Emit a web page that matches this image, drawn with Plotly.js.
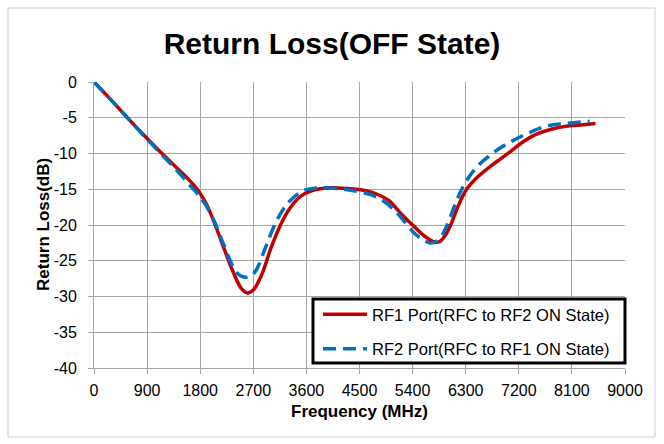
<!DOCTYPE html>
<html>
<head>
<meta charset="utf-8">
<script src="https://cdn.plot.ly/plotly-3.0.1.min.js"></script>
<style>html,body{margin:0;padding:0;background:#fff;}#chart{width:664px;height:444px;}</style>
</head>
<body>
<div id="chart"></div>
<script>
// Frequency points (MHz) and return loss (dB)
const freqRF1 = [0, 300, 600, 900, 1200, 1400, 1600, 1750, 1900, 2050, 2200, 2350, 2500, 2600, 2700, 2850, 3000, 3150, 3300, 3500, 3700, 4000, 4300, 4600, 4800, 5000, 5200, 5400, 5550, 5700, 5780, 5860, 5950, 6050, 6150, 6300, 6500, 6750, 7000, 7250, 7500, 7750, 8000, 8250, 8500];
const rf1 = [0, -2.6, -5.3, -7.9, -10.4, -12.0, -13.6, -15.0, -17.0, -19.9, -23.2, -26.4, -28.9, -29.5, -29.1, -26.8, -23.2, -20.2, -17.9, -16.0, -15.2, -14.8, -14.9, -15.2, -15.7, -16.6, -18.4, -20.0, -21.2, -22.1, -22.4, -22.3, -21.5, -19.9, -17.8, -15.2, -13.3, -11.6, -10.1, -8.5, -7.3, -6.6, -6.2, -6.0, -5.8];

const freqRF2 = [0, 300, 600, 900, 1200, 1400, 1600, 1750, 1900, 2050, 2200, 2350, 2450, 2550, 2650, 2750, 2900, 3050, 3200, 3350, 3550, 3800, 4100, 4400, 4700, 4900, 5100, 5300, 5450, 5600, 5700, 5800, 5900, 6000, 6150, 6300, 6500, 6800, 7100, 7400, 7700, 8000, 8400];
const rf2 = [0, -2.6, -5.3, -8.0, -10.6, -12.3, -14.2, -15.6, -17.3, -19.7, -22.8, -25.7, -26.9, -27.3, -27.2, -26.3, -23.3, -20.2, -17.9, -16.4, -15.2, -14.8, -14.9, -15.2, -15.8, -16.6, -18.0, -19.9, -21.3, -22.2, -22.5, -22.3, -21.4, -19.7, -16.5, -14.0, -11.8, -9.7, -8.2, -7.0, -6.1, -5.8, -5.5];

const seriesNames = ["RF1 Port(RFC to RF2 ON State)", "RF2 Port(RFC to RF1 ON State)"];
const xTicks = [0, 900, 1800, 2700, 3600, 4500, 5400, 6300, 7200, 8100, 9000];
const yTicks = [0, -5, -10, -15, -20, -25, -30, -35, -40];

const W = 664, H = 444;
const L = 94, R = 625, T = 82, B = 368;
const pw = R - L, ph = B - T;
const px = v => (v - L) / pw;
const py = v => (B - v) / ph;

const traces = [
  {x: freqRF1, y: rf1, name: seriesNames[0], type: 'scatter', mode: 'lines',
   line: {color: '#C00000', width: 3.5, shape: 'spline', smoothing: 1}, legendgroup: 'a'},
  {x: freqRF2, y: rf2, name: seriesNames[1], type: 'scatter', mode: 'lines',
   line: {color: '#0070C0', width: 3.5, shape: 'spline', smoothing: 1, dash: '13px,7px'}, legendgroup: 'b'}
];

const font = '"Liberation Sans", Arial, sans-serif';
const layout = {
  width: W, height: H,
  margin: {l: L, r: W - R, t: T, b: H - B, pad: 0},
  paper_bgcolor: '#ffffff', plot_bgcolor: '#ffffff',
  font: {family: font, size: 16, color: '#000'},
  title: {text: '<b>Return Loss(OFF State)</b>', font: {family: font, size: 30, color: '#000'},
          x: 0.5, xref: 'container', xanchor: 'center', y: 1 - 43 / H, yref: 'container', yanchor: 'middle'},
  xaxis: {range: [0, 9000], tickvals: xTicks, ticktext: xTicks.map(String), showgrid: true, gridcolor: '#a6a6a6', gridwidth: 1,
          showline: true, linecolor: '#a6a6a6', linewidth: 1, ticks: 'outside', ticklen: 5, tickcolor: '#a6a6a6',
          ticklabelstandoff: 3, zeroline: false, tickfont: {size: 16, color: '#000'},
          title: {text: '<b>Frequency (MHz)</b>', font: {size: 17, color: '#000'}, standoff: 6}},
  yaxis: {range: [-40, 0], tickvals: yTicks, ticktext: yTicks.map(String), showgrid: true, gridcolor: '#a6a6a6', gridwidth: 1,
          showline: true, linecolor: '#a6a6a6', linewidth: 1, ticks: 'outside', ticklen: 5, tickcolor: '#a6a6a6',
          ticklabelstandoff: 8, zeroline: false, tickfont: {size: 16, color: '#000'}},
  annotations: [
    {text: '<b>Return Loss(dB)</b>', xref: 'paper', yref: 'paper', x: px(43), y: 0.5, xanchor: 'center', yanchor: 'middle',
     textangle: -90, showarrow: false, font: {size: 17, color: '#000'}}
  ],
  showlegend: true,
  legend: {x: px(318), y: py(297), xanchor: 'left', yanchor: 'top', bgcolor: 'rgba(0,0,0,0)', borderwidth: 0,
           font: {size: 16.5, color: '#000'}, traceorder: 'grouped', tracegroupgap: 10, itemwidth: 44},
  shapes: [
    {type: 'rect', xref: 'paper', yref: 'paper', x0: px(313), x1: px(625), y0: py(363), y1: py(299),
     fillcolor: '#ffffff', line: {color: '#000', width: 3}, layer: 'above'},
    {type: 'rect', xref: 'paper', yref: 'paper', x0: px(8), x1: px(655), y0: py(437), y1: py(8),
     fillcolor: 'rgba(0,0,0,0)', line: {color: '#d0d0d0', width: 1}, layer: 'below'}
  ]
};

Plotly.newPlot('chart', traces, layout, {staticPlot: true, displayModeBar: false});
</script>
</body>
</html>
